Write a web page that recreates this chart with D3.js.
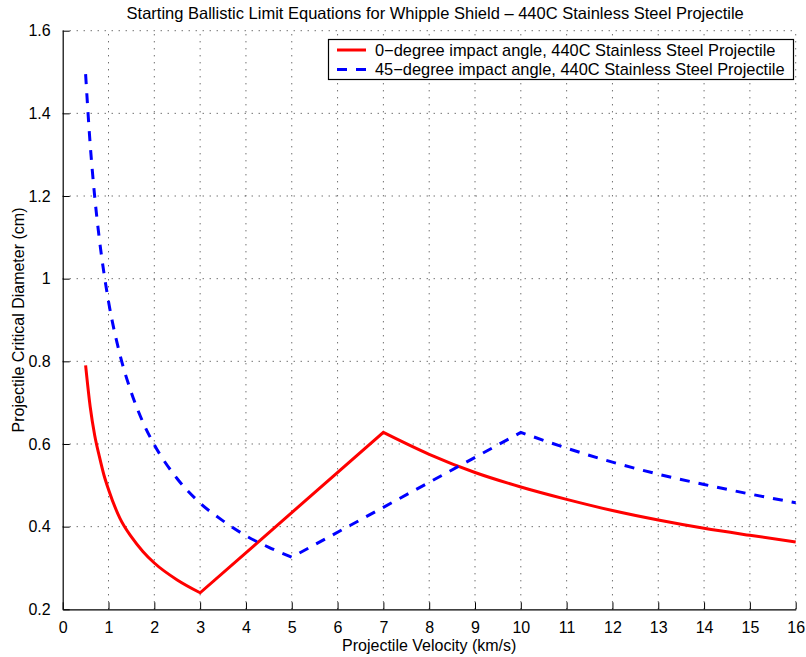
<!DOCTYPE html>
<html>
  <head>
    <meta charset="utf-8">
    <title>Whipple Shield</title>
    <script src="https://d3js.org/d3.v7.min.js"></script>
    <style>
      body { margin: 0; background: #fff; }
      text { font-family: "Liberation Sans", Arial, sans-serif; fill: #000; }
    </style>
  </head>

  <body>
    <script>
      // velocities (km/s) and critical diameters (cm)
      var vel0 = [0.5, 0.6, 0.7, 0.8, 0.9, 1.0, 1.25, 1.5, 1.75, 2, 2.5, 3,
                  7, 8, 9, 10, 11, 12, 13, 14, 15, 16];
      var dia0 = [0.79, 0.69, 0.62, 0.57, 0.525, 0.49, 0.42, 0.375, 0.34, 0.312, 0.271, 0.240,
                  0.628, 0.575, 0.531, 0.496, 0.466, 0.439, 0.416, 0.396, 0.379, 0.363];
      var kinks0 = [3, 7];
      var vel45 = [0.5, 0.6, 0.7, 0.8, 0.9, 1.0, 1.25, 1.5, 1.75, 2, 2.5, 3, 3.5, 4, 4.5, 5,
                   10, 11, 12, 13, 14, 15, 16];
      var dia45 = [1.495, 1.325, 1.197, 1.096, 1.014, 0.945, 0.816, 0.724, 0.653, 0.598, 0.516,
                   0.457, 0.414, 0.378, 0.35, 0.326,
                   0.628, 0.59, 0.556, 0.527, 0.502, 0.479, 0.458];
      var kinks45 = [5, 10];
      var xTicks = d3.range(0, 17, 1);
      var yTicks = [0.2, 0.4, 0.6, 0.8, 1, 1.2, 1.4, 1.6];
      var legendLabels = ["0\u2212degree impact angle, 440C Stainless Steel Projectile",
                          "45\u2212degree impact angle, 440C Stainless Steel Projectile"];

      var width = 806, height = 657;
      var mLeft = 62.7, mRight = 795.7, mTop = 30.7, mBottom = 609.3;

      var svg = d3.select("body").append("svg")
          .attr("width", width)
          .attr("height", height);

      var x = d3.scaleLinear().domain([0, 16]).range([mLeft, mRight]);
      var y = d3.scaleLinear().domain([0.2, 1.6]).range([mBottom, mTop]);

      // grid
      var grid = svg.append("g");
      grid.selectAll("line.gx").data(xTicks.slice(1)).enter().append("line")
          .attr("x1", d => x(d)).attr("x2", d => x(d))
          .attr("y1", mBottom).attr("y2", mTop)
          .style("stroke", "#333").style("stroke-width", 1)
          .style("stroke-dasharray", "1,6");
      grid.selectAll("line.gy").data(yTicks.slice(1)).enter().append("line")
          .attr("x1", mLeft).attr("x2", mRight)
          .attr("y1", d => y(d)).attr("y2", d => y(d))
          .style("stroke", "#333").style("stroke-width", 1)
          .style("stroke-dasharray", "1,6");

      // axes (ticks pointing inward)
      var xAxis = svg.append("g")
          .attr("transform", "translate(0," + mBottom + ")")
          .call(d3.axisBottom(x).tickValues(xTicks).tickSize(-7).tickPadding(12)
                .tickSizeOuter(0).tickFormat(d3.format("d")));
      var yAxis = svg.append("g")
          .attr("transform", "translate(" + mLeft + ",0)")
          .call(d3.axisLeft(y).tickValues(yTicks).tickSize(-7).tickPadding(12)
                .tickSizeOuter(0).tickFormat(d => String(d)));
      [xAxis, yAxis].forEach(function (a) {
        a.select(".domain").style("stroke", "#000").style("stroke-width", 1.2);
        a.selectAll(".tick line").style("stroke", "#000");
        a.selectAll("text").style("font-size", "16px")
          .style("font-family", "'Liberation Sans', Arial, sans-serif");
      });

      // lines: smooth within each regime, straight corners at the regime limits
      var line = d3.line()
          .x(d => x(d[0]))
          .y(d => y(d[1]))
          .curve(d3.curveMonotoneX);
      function piecewise(vs, ds, kinks) {
        var pts = vs.map((v, i) => [v, ds[i]]);
        var parts = [], cur = [];
        pts.forEach(function (p) {
          cur.push(p);
          if (kinks.indexOf(p[0]) >= 0) { parts.push(cur); cur = [p]; }
        });
        if (cur.length > 1) parts.push(cur);
        return parts.map((s, i) => i === 0 ? line(s) : line(s).replace(/^M/, "L")).join("");
      }

      svg.append("path")
          .attr("d", piecewise(vel0, dia0, kinks0))
          .style("fill", "none").style("stroke", "#ff0000").style("stroke-width", 3)
          .style("stroke-linejoin", "miter");
      svg.append("path")
          .attr("d", piecewise(vel45, dia45, kinks45))
          .style("fill", "none").style("stroke", "#0000ff").style("stroke-width", 3)
          .style("stroke-dasharray", "10,9");

      // title and labels
      svg.append("text")
          .attr("x", (mLeft + mRight) / 2 + 6).attr("y", 19)
          .attr("text-anchor", "middle").style("font-size", "16.5px")
          .text("Starting Ballistic Limit Equations for Whipple Shield \u2013 440C Stainless Steel Projectile");
      svg.append("text")
          .attr("x", (mLeft + mRight) / 2).attr("y", 651)
          .attr("text-anchor", "middle").style("font-size", "16px")
          .text("Projectile Velocity (km/s)");
      svg.append("text")
          .attr("transform", "translate(24," + ((mTop + mBottom) / 2) + ") rotate(-90)")
          .attr("text-anchor", "middle").style("font-size", "16px")
          .text("Projectile Critical Diameter (cm)");

      // legend
      var lg = svg.append("g");
      lg.append("rect")
          .attr("x", 328.5).attr("y", 39.5).attr("width", 465).attr("height", 40)
          .style("fill", "#fff").style("stroke", "#000").style("stroke-width", 1.2);
      var colors = ["#ff0000", "#0000ff"];
      var dashes = ["none", "10,9"];
      legendLabels.forEach(function (t, i) {
        var ly = 50 + i * 19.5;
        lg.append("line")
            .attr("x1", 337).attr("x2", 366).attr("y1", ly).attr("y2", ly)
            .style("stroke", colors[i]).style("stroke-width", 3)
            .style("stroke-dasharray", dashes[i]);
        lg.append("text")
            .attr("x", 375).attr("y", ly + 5.5)
            .style("font-size", "16.4px")
            .text(t);
      });
    </script>
  </body>
</html>
